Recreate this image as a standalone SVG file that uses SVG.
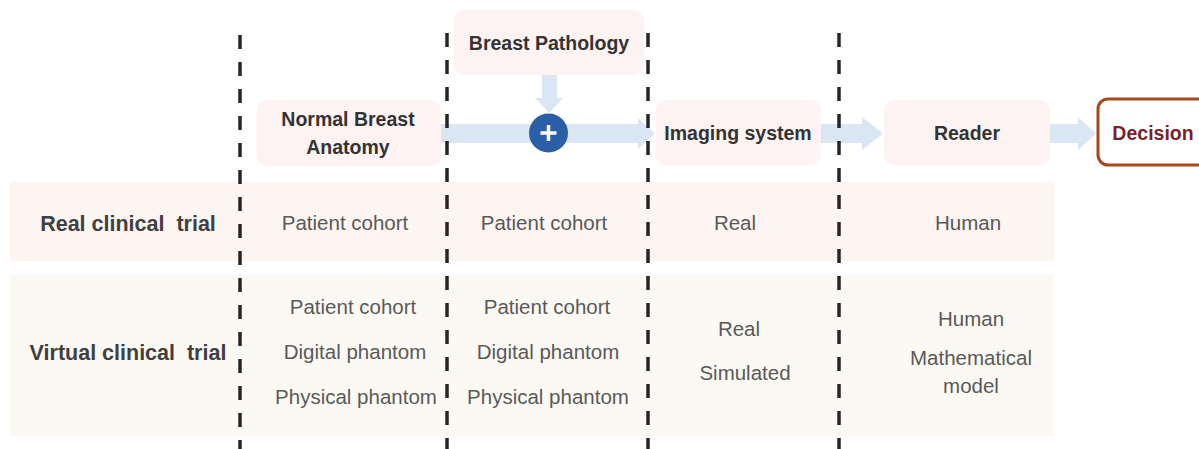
<svg xmlns="http://www.w3.org/2000/svg" width="1199" height="449" viewBox="0 0 1199 449">
<style>
.node{fill:#fdf3f3;}
.title{font-family:"Liberation Sans",Arial,sans-serif;font-weight:bold;font-size:19.5px;fill:#333333;text-anchor:middle;}
.rowlabel{font-family:"Liberation Sans",Arial,sans-serif;font-weight:bold;font-size:21.5px;fill:#404040;text-anchor:middle;white-space:pre;}
.cell{font-family:"Liberation Sans",Arial,sans-serif;font-size:20.5px;fill:#595959;text-anchor:middle;}
.arrow{fill:#dbe6f5;}
.dash{stroke:#262626;stroke-width:3.5;stroke-dasharray:14 13;fill:none;}
</style>
<rect width="1199" height="449" fill="#ffffff"/>
<g id="bands">
<rect x="10" y="182" width="1044" height="79" fill="#fdf5f2"/>
<rect x="10" y="275" width="1044" height="161" fill="#fcf9f4"/>
</g>
<g id="connectors">
<polygon class="arrow" points="441,124 638,124 638,118 655,133.5 638,149 638,143 441,143"/>
<polygon class="arrow" points="542,75 557,75 557,98 563,98 549,113 535,98 542,98"/>
<polygon class="arrow" points="821,124 862,124 862,117 883,133.5 862,150 862,143 821,143"/>
<polygon class="arrow" points="1050,124 1078,124 1078,117 1096,133.5 1078,150 1078,143 1050,143"/>
</g>
<g id="dividers">
<line class="dash" x1="240" y1="35" x2="240" y2="449"/>
<line class="dash" x1="447" y1="33" x2="447" y2="449"/>
<line class="dash" x1="648" y1="33" x2="648" y2="449"/>
<line class="dash" x1="839" y1="33" x2="839" y2="449"/>
</g>
<g id="node-normal-anatomy">
<rect class="node" x="257" y="100" width="184" height="66" rx="10"/>
<text class="title" x="348" y="126">Normal Breast</text>
<text class="title" x="348" y="154">Anatomy</text>
</g>
<g id="node-pathology">
<rect class="node" x="454" y="10" width="190" height="65" rx="10"/>
<text class="title" x="549" y="50">Breast Pathology</text>
</g>
<g id="node-plus">
<circle cx="548.5" cy="133" r="19.5" fill="#2a5ea6"/>
<path d="M548.5,125 V141 M540.5,133 H556.5" stroke="#ffffff" stroke-width="3.5" fill="none"/>
</g>
<g id="node-imaging">
<rect class="node" x="656" y="100" width="165" height="65" rx="10"/>
<text class="title" x="738" y="140">Imaging system</text>
</g>
<g id="node-reader">
<rect class="node" x="884" y="100" width="166" height="65" rx="10"/>
<text class="title" x="967" y="140">Reader</text>
</g>
<g id="node-decision">
<rect x="1098" y="99" width="120" height="66" rx="10" fill="#ffffff" stroke="#a8461c" stroke-width="3"/>
<text class="title" x="1153" y="140" style="fill:#7b1f2b">Decision</text>
</g>
<g id="row-real">
<text class="rowlabel" x="128" y="231" xml:space="preserve">Real clinical  trial</text>
<text class="cell" x="345" y="230">Patient cohort</text>
<text class="cell" x="544" y="230">Patient cohort</text>
<text class="cell" x="735" y="230">Real</text>
<text class="cell" x="968" y="230">Human</text>
</g>
<g id="row-virtual">
<text class="rowlabel" x="128" y="360" xml:space="preserve">Virtual clinical  trial</text>
<text class="cell" x="353" y="314">Patient cohort</text>
<text class="cell" x="355" y="359">Digital phantom</text>
<text class="cell" x="356" y="404">Physical phantom</text>
<text class="cell" x="547" y="314">Patient cohort</text>
<text class="cell" x="548" y="359">Digital phantom</text>
<text class="cell" x="548" y="404">Physical phantom</text>
<text class="cell" x="739" y="336">Real</text>
<text class="cell" x="745" y="380">Simulated</text>
<text class="cell" x="971" y="326">Human</text>
<text class="cell" x="971" y="365">Mathematical</text>
<text class="cell" x="971" y="393">model</text>
</g>
</svg>
